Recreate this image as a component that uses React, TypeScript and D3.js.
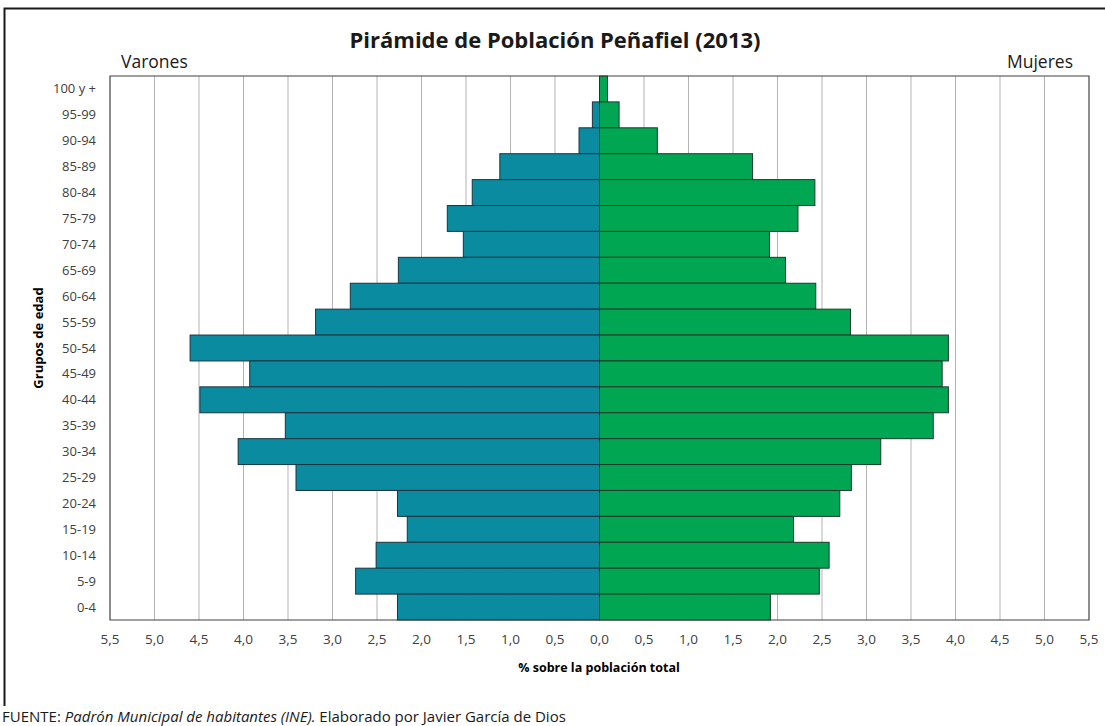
import * as d3 from "d3";
import { useEffect, useRef } from "react";

// age groups, top to bottom
const ageGroups = [
  "100 y +", "95-99", "90-94", "85-89", "80-84", "75-79", "70-74", "65-69",
  "60-64", "55-59", "50-54", "45-49", "40-44", "35-39", "30-34", "25-29",
  "20-24", "15-19", "10-14", "5-9", "0-4",
];

// % of total population
const varones = [
  0.0, 0.08, 0.23, 1.12, 1.43, 1.71, 1.53, 2.26,
  2.8, 3.19, 4.6, 3.93, 4.49, 3.53, 4.06, 3.41,
  2.27, 2.16, 2.51, 2.74, 2.27,
];
const mujeres = [
  0.09, 0.22, 0.65, 1.72, 2.42, 2.23, 1.91, 2.09,
  2.43, 2.82, 3.92, 3.85, 3.92, 3.75, 3.16, 2.83,
  2.7, 2.18, 2.58, 2.47, 1.92,
];

const xTicks = d3.range(-5.5, 5.51, 0.5);

const W = 1105;
const H = 726;
const FONT = "'Open Sans', 'Liberation Sans', sans-serif";

export default function App() {
  const ref = useRef<SVGSVGElement>(null);

  useEffect(() => {
    drawChart();
  }, []);

  function drawChart() {
    const svg = d3.select(ref.current);
    svg.selectAll("*").remove();

    const left = 110, right = 1089, top = 76, bottom = 620;

    const x = d3.scaleLinear().domain([-5.5, 5.5]).range([left, right]);
    const y = d3.scaleBand().domain(ageGroups).range([top, bottom]).padding(0);
    const fmt = (d: number) => d3.format(".1f")(Math.abs(d)).replace(".", ",");

    svg.append("rect").attr("width", W).attr("height", H).attr("fill", "#fff");

    // outer frame (left + top)
    svg.append("path")
      .attr("d", `M4.5,706 L4.5,8.5 L${W},8.5`)
      .attr("fill", "none")
      .attr("stroke", "#1a1a1a")
      .attr("stroke-width", 2);

    // vertical gridlines
    svg.append("g").selectAll("line").data(xTicks).enter().append("line")
      .attr("x1", d => x(d)).attr("x2", d => x(d))
      .attr("y1", top).attr("y2", bottom)
      .attr("stroke", "#b3b3b3").attr("stroke-width", 1);

    const males = ageGroups.map((g, i) => ({ g, v: varones[i] }));
    const females = ageGroups.map((g, i) => ({ g, v: mujeres[i] }));

    svg.append("g").selectAll("rect").data(males.filter(d => d.v > 0)).enter().append("rect")
      .attr("x", d => x(-d.v))
      .attr("y", d => y(d.g)!)
      .attr("width", d => x(0) - x(-d.v))
      .attr("height", y.bandwidth())
      .attr("fill", "#0a8ba0")
      .attr("stroke", "#1c3340").attr("stroke-width", 1);

    svg.append("g").selectAll("rect").data(females).enter().append("rect")
      .attr("x", x(0))
      .attr("y", d => y(d.g)!)
      .attr("width", d => x(d.v) - x(0))
      .attr("height", y.bandwidth())
      .attr("fill", "#00a651")
      .attr("stroke", "#1c3a28").attr("stroke-width", 1);

    // plot border
    svg.append("rect")
      .attr("x", left).attr("y", top)
      .attr("width", right - left).attr("height", bottom - top)
      .attr("fill", "none").attr("stroke", "#404040").attr("stroke-width", 1);

    // x tick labels
    svg.append("g").selectAll("text").data(xTicks).enter().append("text")
      .attr("x", d => x(d)).attr("y", 644)
      .attr("text-anchor", "middle")
      .style("font", `13.5px ${FONT}`).style("fill", "#404040")
      .text(d => fmt(d));

    // y tick labels
    svg.append("g").selectAll("text").data(ageGroups).enter().append("text")
      .attr("x", 96).attr("y", d => y(d)! + y.bandwidth() / 2 + 4.5)
      .attr("text-anchor", "end")
      .style("font", `13px ${FONT}`).style("fill", "#404040")
      .text(d => d);

    svg.append("text")
      .attr("x", 555).attr("y", 48)
      .attr("text-anchor", "middle")
      .style("font", `bold 22px ${FONT}`).style("fill", "#1a1a1a")
      .text("Pirámide de Población Peñafiel (2013)");

    svg.append("text")
      .attr("x", 121).attr("y", 68)
      .style("font", `17.5px ${FONT}`).style("fill", "#1a1a1a")
      .text("Varones");

    svg.append("text")
      .attr("x", 1073).attr("y", 68)
      .attr("text-anchor", "end")
      .style("font", `17.5px ${FONT}`).style("fill", "#1a1a1a")
      .text("Mujeres");

    svg.append("text")
      .attr("transform", "translate(43,338) rotate(-90)")
      .attr("text-anchor", "middle")
      .style("font", `bold 13px ${FONT}`).style("fill", "#000")
      .text("Grupos de edad");

    svg.append("text")
      .attr("x", 599).attr("y", 672)
      .attr("text-anchor", "middle")
      .style("font", `bold 12.5px ${FONT}`).style("fill", "#000")
      .text("% sobre la población total");

    const foot = svg.append("text")
      .attr("x", 2).attr("y", 722)
      .style("font", `15px ${FONT}`).style("fill", "#1a1a1a");
    foot.append("tspan").text("FUENTE: ");
    foot.append("tspan").style("font-style", "italic").text("Padrón Municipal  de habitantes (INE).");
    foot.append("tspan").text("  Elaborado por Javier García de Dios");
  }

  return (
    <svg
      ref={ref}
      width={W}
      height={H}
      style={{ position: "absolute", left: 0, top: 0 }}
    />
  );
}
